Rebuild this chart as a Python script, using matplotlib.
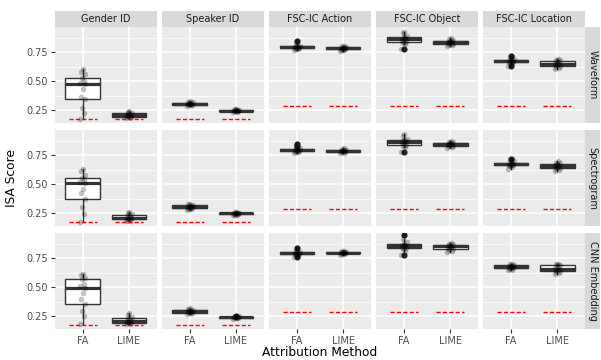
import matplotlib
matplotlib.use("Agg")
import matplotlib.pyplot as plt

# ---------------- data ----------------
tasks = ["Gender ID", "Speaker ID", "FSC-IC Action", "FSC-IC Object", "FSC-IC Location"]
reps = ["Waveform", "Spectrogram", "CNN Embedding"]
methods = ["FA", "LIME"]
baseline = [0.172, 0.172, 0.285, 0.285, 0.285]
yticks = [0.25, 0.50, 0.75]
ytick_labels = ["0.25", "0.50", "0.75"]

# each list: [Waveform, Spectrogram, CNN Embedding]
gender_fa = [
    [0.17, 0.22, 0.27, 0.347, 0.36, 0.43, 0.474, 0.48, 0.50, 0.526, 0.56, 0.58, 0.60],
    [0.175, 0.24, 0.30, 0.368, 0.42, 0.46, 0.506, 0.52, 0.54, 0.554, 0.58, 0.61, 0.627],
    [0.18, 0.25, 0.29, 0.353, 0.40, 0.45, 0.495, 0.51, 0.53, 0.569, 0.58, 0.60, 0.61],
]
gender_lime = [
    [0.178, 0.183, 0.188, 0.19, 0.196, 0.20, 0.205, 0.21, 0.218, 0.224, 0.228, 0.235, 0.24],
    [0.178, 0.185, 0.19, 0.196, 0.20, 0.205, 0.21, 0.215, 0.22, 0.233, 0.24, 0.25, 0.26],
    [0.178, 0.183, 0.187, 0.19, 0.195, 0.20, 0.205, 0.21, 0.22, 0.235, 0.245, 0.26, 0.275],
]
speaker_fa = [
    [0.285, 0.29, 0.293, 0.295, 0.298, 0.30, 0.302, 0.304, 0.307, 0.31, 0.315, 0.32, 0.325],
    [0.28, 0.285, 0.288, 0.29, 0.295, 0.298, 0.30, 0.305, 0.31, 0.315, 0.32, 0.325, 0.33],
    [0.27, 0.275, 0.278, 0.28, 0.284, 0.287, 0.29, 0.293, 0.296, 0.30, 0.305, 0.31, 0.315],
]
speaker_lime = [
    [0.232, 0.236, 0.238, 0.24, 0.242, 0.244, 0.245, 0.246, 0.248, 0.25, 0.252, 0.255, 0.258],
    [0.23, 0.234, 0.237, 0.24, 0.242, 0.244, 0.246, 0.247, 0.248, 0.25, 0.253, 0.256, 0.26],
    [0.228, 0.232, 0.235, 0.237, 0.238, 0.239, 0.24, 0.241, 0.242, 0.243, 0.246, 0.25, 0.254],
]
action_fa = [
    [0.765, 0.775, 0.78, 0.785, 0.788, 0.79, 0.792, 0.794, 0.797, 0.80, 0.805, 0.82, 0.845],
    [0.765, 0.775, 0.78, 0.785, 0.788, 0.79, 0.792, 0.794, 0.797, 0.80, 0.81, 0.825, 0.845],
    [0.76, 0.77, 0.778, 0.783, 0.786, 0.788, 0.79, 0.792, 0.795, 0.798, 0.805, 0.82, 0.84],
]
action_lime = [
    [0.76, 0.765, 0.77, 0.775, 0.778, 0.78, 0.782, 0.784, 0.787, 0.79, 0.795, 0.80, 0.805],
    [0.765, 0.77, 0.775, 0.78, 0.782, 0.784, 0.786, 0.788, 0.79, 0.792, 0.797, 0.80, 0.808],
    [0.78, 0.784, 0.787, 0.79, 0.792, 0.794, 0.796, 0.798, 0.80, 0.802, 0.805, 0.81, 0.815],
]
object_fa = [
    [0.775, 0.82, 0.83, 0.84, 0.848, 0.855, 0.86, 0.865, 0.87, 0.877, 0.89, 0.91, 0.925],
    [0.776, 0.82, 0.83, 0.84, 0.85, 0.858, 0.865, 0.868, 0.872, 0.877, 0.89, 0.91, 0.93],
    [0.775, 0.81, 0.825, 0.834, 0.842, 0.85, 0.855, 0.86, 0.866, 0.872, 0.89, 0.91, 0.945],
]
object_lime = [
    [0.805, 0.81, 0.815, 0.822, 0.828, 0.832, 0.837, 0.84, 0.843, 0.847, 0.855, 0.862, 0.87],
    [0.815, 0.82, 0.826, 0.832, 0.836, 0.84, 0.845, 0.848, 0.851, 0.855, 0.86, 0.866, 0.872],
    [0.805, 0.812, 0.82, 0.83, 0.838, 0.845, 0.85, 0.853, 0.856, 0.86, 0.868, 0.875, 0.88],
]
location_fa = [
    [0.63, 0.645, 0.655, 0.661, 0.664, 0.667, 0.67, 0.672, 0.675, 0.679, 0.69, 0.70, 0.72],
    [0.63, 0.645, 0.655, 0.661, 0.665, 0.668, 0.67, 0.674, 0.678, 0.684, 0.695, 0.705, 0.72],
    [0.645, 0.65, 0.655, 0.66, 0.665, 0.67, 0.675, 0.678, 0.682, 0.688, 0.692, 0.695, 0.70],
]
location_lime = [
    [0.60, 0.61, 0.62, 0.63, 0.638, 0.645, 0.65, 0.655, 0.665, 0.675, 0.68, 0.685, 0.69],
    [0.61, 0.62, 0.63, 0.64, 0.645, 0.65, 0.655, 0.66, 0.668, 0.675, 0.68, 0.685, 0.695],
    [0.61, 0.62, 0.63, 0.64, 0.645, 0.65, 0.655, 0.662, 0.672, 0.686, 0.69, 0.695, 0.70],
]

scores = {
    "Gender ID": (gender_fa, gender_lime),
    "Speaker ID": (speaker_fa, speaker_lime),
    "FSC-IC Action": (action_fa, action_lime),
    "FSC-IC Object": (object_fa, object_lime),
    "FSC-IC Location": (location_fa, location_lime),
}

# ---------------- layout ----------------
W, H = 601, 360
fig = plt.figure(figsize=(W / 100, H / 100), dpi=100)
fig.patch.set_facecolor("white")

left0, right0 = 55, 585
hgap = 5.5
pw = (right0 - left0 - 4 * hgap) / 5
top0 = 27
ph = 96
vgap = 7
strip_h = 16
strip_w = 15

jit = [-0.06, 0.03, -0.02, 0.05, -0.04, 0.0, 0.04, -0.05, 0.02, -0.01, 0.06, -0.03, 0.01]

def fig_rect(x, y, w, h):
    return [x / W, 1 - (y + h) / H, w / W, h / H]

for r, rep in enumerate(reps):
    for c, task in enumerate(tasks):
        x0 = left0 + c * (pw + hgap)
        y0 = top0 + r * (ph + vgap)
        ax = fig.add_axes(fig_rect(x0, y0, pw, ph))
        ax.set_facecolor("#EBEBEB")
        for s in ax.spines.values():
            s.set_visible(False)

        fa_vals = scores[task][0][r]
        lime_vals = scores[task][1][r]
        data = [fa_vals, lime_vals]

        ax.boxplot(
            data, positions=[1, 2], widths=0.75, patch_artist=True, showcaps=False,
            manage_ticks=False,
            boxprops=dict(facecolor="white", edgecolor="#333333", lw=1.0),
            medianprops=dict(color="#333333", lw=2.3),
            whiskerprops=dict(color="#333333", lw=1.0),
            flierprops=dict(marker="o", markerfacecolor="#222222", markeredgecolor="#222222",
                            markersize=3.4),
            zorder=2,
        )
        for i, vals in enumerate(data):
            xs = [i + 1 + jit[k % len(jit)] for k in range(len(vals))]
            ax.scatter(xs, vals, s=16, color="black", alpha=0.24, lw=0, zorder=3)
            ax.hlines(baseline[c], i + 1 - 0.3, i + 1 + 0.3, colors="red",
                      linestyles=(0, (3, 1.6)), lw=1.0, zorder=4)

        ax.set_xlim(0.4, 2.6)
        ax.set_ylim(0.138, 0.966)
        ax.set_xticks([1, 2])
        ax.set_yticks(yticks)
        ax.set_yticks([0.375, 0.625, 0.875], minor=True)
        ax.grid(which="major", color="white", lw=1.1)
        ax.grid(which="minor", axis="y", color="white", lw=0.55)
        ax.set_axisbelow(True)
        ax.tick_params(which="minor", length=0)

        if c == 0:
            ax.set_yticklabels(ytick_labels)
            ax.tick_params(axis="y", length=3, color="#333333", labelcolor="#4D4D4D",
                           labelsize=7, width=0.8, pad=2)
        else:
            ax.tick_params(axis="y", length=0, labelleft=False)
        if r == len(reps) - 1:
            ax.set_xticklabels(methods)
            ax.tick_params(axis="x", length=3, color="#333333", labelcolor="#4D4D4D",
                           labelsize=7, width=0.8, pad=2)
        else:
            ax.tick_params(axis="x", length=0, labelbottom=False)

        if r == 0:
            sax = fig.add_axes(fig_rect(x0, top0 - strip_h, pw, strip_h))
            sax.set_facecolor("#D9D9D9")
            sax.set_xticks([]); sax.set_yticks([])
            for s in sax.spines.values():
                s.set_visible(False)
            sax.text(0.5, 0.5, task, ha="center", va="center", fontsize=7,
                     color="#1A1A1A", transform=sax.transAxes)
        if c == len(tasks) - 1:
            sax = fig.add_axes(fig_rect(x0 + pw, y0, strip_w, ph))
            sax.set_facecolor("#D9D9D9")
            sax.set_xticks([]); sax.set_yticks([])
            for s in sax.spines.values():
                s.set_visible(False)
            sax.text(0.5, 0.5, rep, ha="center", va="center", fontsize=7,
                     color="#1A1A1A", rotation=-90, transform=sax.transAxes)

fig.text(12 / W, 1 - ((top0 + (3 * ph + 2 * vgap) / 2) / H), "ISA Score", rotation=90,
         ha="center", va="center", fontsize=8.8, color="black")
fig.text((left0 + right0) / 2 / W, 1 - 353 / H, "Attribution Method",
         ha="center", va="center", fontsize=8.8, color="black")

fig.savefig("out.png", dpi=100, facecolor="white")
